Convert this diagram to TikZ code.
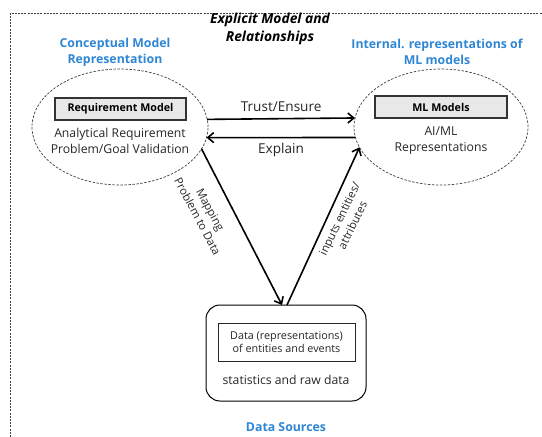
\documentclass[tikz,border=0pt]{standalone}
\usepackage{fontspec}
\setmainfont{Open Sans}
\usetikzlibrary{arrows.meta,shapes.geometric,calc}
\definecolor{hblue}{RGB}{46,134,212}
\definecolor{boxfill}{RGB}{232,232,232}
\begin{document}
\begin{tikzpicture}[x=1pt,y=-1pt,
  every node/.style={inner sep=0pt, outer sep=0pt},
  ell/.style={ellipse, draw=black!75, dash pattern=on 2.5pt off 1.5pt, line width=0.7pt},
  hdr/.style={text=hblue, font=\fontsize{12.3}{16}\selectfont\bfseries, align=center},
  graybox/.style={draw=black!80, fill=boxfill, line width=1.1pt, font=\fontsize{10.7}{12}\selectfont\bfseries},
  body/.style={font=\fontsize{12.2}{16}\selectfont, align=center, text=black!85},
  conn/.style={line width=1.6pt, -{Straight Barb[length=6pt,width=10pt,line width=1.6pt]}},
  lbl/.style={font=\fontsize{13.6}{15}\selectfont, text=black!85},
  rlbl/.style={font=\fontsize{11.3}{14.5}\selectfont, align=center, text=black!85}
]
\useasboundingbox (0,0) rectangle (542,437);
% outer dashed frame
\draw[black!75, dash pattern=on 2pt off 1.2pt, line width=0.7pt] (10,437) -- (10,13) -- (542,13);
% title
\node[font=\fontsize{13.8}{18}\selectfont\bfseries\itshape, align=center] (title) at (270,29) {Explicit Model and\\Relationships};
\node[hdr] (cmr) at (115,52) {Conceptual Model\\Representation};
\node[hdr] (iml) at (437,52) {Internal. representations of\\ML models};
% ellipses
\node[ell, minimum width=176pt, minimum height=116pt] (le) at (120,127) {};
\node[ell, minimum width=174pt, minimum height=116pt] (re) at (441,127) {};
\node[graybox, minimum width=131pt, minimum height=22pt] (req) at (120.5,109) {Requirement Model};
\node[graybox, minimum width=132pt, minimum height=22pt] (ml) at (441,107) {ML Models};
\node[body] (ltxt) at (120,141) {Analytical Requirement\\Problem/Goal Validation};
\node[body] (rtxt) at (441,141) {AI/ML\\Representations};
% data box
\node[draw=black, line width=1pt, rounded corners=14pt, minimum width=160pt, minimum height=96pt] (db) at (286,353) {};
\node[draw=black!85, line width=1pt, minimum width=137pt, minimum height=38pt, font=\fontsize{10.8}{13.5}\selectfont, align=center, text=black!85] (inner) at (286.5,342) {Data (representations)\\of entities and events};
\node[body] (stat) at (286,380) {statistics and raw data};
\node[hdr] (ds) at (286,427) {Data Sources};
% connectors
\draw[conn] (le.5.3) -- node[lbl, above=7pt] (trust) {Trust/Ensure} (re.174.7);
\draw[conn] (re.187.3) -- node[lbl, below=6pt] (explain) {Explain} (le.-7.3);
\draw[conn] (le.-15.5) -- ($(db.north)+(-4,0)$);
\draw[conn] ($(db.north)+(1,0)$) -- (re.194.2);
\node[rlbl, rotate=-62] (map) at (204,213) {Mapping\\Problem to Data};
\node[rlbl, rotate=64] (inp) at (346,222) {inputs entities/\\attributes};
\end{tikzpicture}
\end{document}
